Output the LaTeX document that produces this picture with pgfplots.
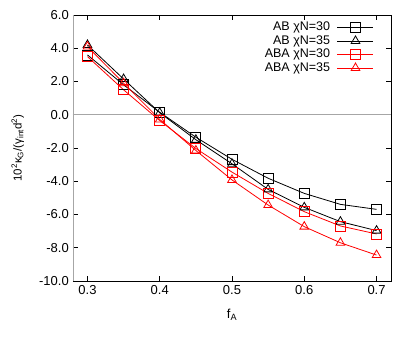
\documentclass[border=0pt]{standalone}
\usepackage{fontspec}
\setmainfont{Liberation Sans}
\usepackage{pgfplots}
\pgfplotsset{compat=1.18}
\begin{document}
\fontsize{12pt}{14pt}\selectfont
\begin{tikzpicture}[x=1pt,y=1pt]
\begin{axis}[
  name=ax, scale only axis, width=318pt, height=266pt,
  xmin=0.28, xmax=0.72, ymin=-10, ymax=6,
  xtick={0.3,0.4,0.5,0.6,0.7}, ytick={-10,-8,-6,-4,-2,0,2,4,6},
  tick align=inside, tick pos=both, major tick length=5pt,
  tick style={black, line width=0.6pt},
  /pgf/number format/assume math mode=true,
  yticklabel style={/pgf/number format/.cd, fixed, fixed zerofill, precision=1},
  xticklabel style={/pgf/number format/.cd, fixed, fixed zerofill, precision=1},
  tick label style={font=\fontsize{13pt}{15pt}\selectfont},
  axis line style={line width=0.8pt},
  xlabel={f\textsubscript{A}}, xlabel style={font=\fontsize{13pt}{15pt}\selectfont, yshift=-6pt},
  ylabel={10\textsuperscript{2}κ\textsubscript{G}/(γ\textsubscript{int}d\textsuperscript{2})},
  ylabel style={font=\fontsize{11.5pt}{13pt}\selectfont, yshift=7pt},
  legend style={draw=none, fill=none, at={(0.95,0.985)}, anchor=north east,
    font=\fontsize{12.5pt}{13pt}\selectfont, row sep=-1pt, column sep=5pt, inner sep=1pt},
  legend cell align=right, legend plot pos=right,
  legend image code/.code={\draw[mark repeat=2,mark phase=2,#1] plot coordinates {(0pt,0pt) (18pt,0pt) (36pt,0pt)};},
  every axis plot/.append style={line width=0.8pt},
  clip=false,
]
\addplot[gray!70, line width=0.8pt, forget plot] coordinates {(0.28,0) (0.72,0)};
\addplot[black, mark=square, mark size=5pt] coordinates {
  (0.30,3.6) (0.35,1.8) (0.40,0.15) (0.45,-1.35) (0.50,-2.68)
  (0.55,-3.82) (0.60,-4.73) (0.65,-5.39) (0.70,-5.69)};
\addlegendentry{AB χN=30}
\addplot[black, mark=triangle, mark size=5pt] coordinates {
  (0.30,4.2) (0.35,2.15) (0.40,0.12) (0.45,-1.5) (0.50,-2.95)
  (0.55,-4.49) (0.60,-5.57) (0.65,-6.43) (0.70,-6.97)};
\addlegendentry{AB χN=35}
\addplot[red, mark=square, mark size=5pt] coordinates {
  (0.30,3.5) (0.35,1.5) (0.40,-0.35) (0.45,-2.03) (0.50,-3.45)
  (0.55,-4.73) (0.60,-5.83) (0.65,-6.69) (0.70,-7.17)};
\addlegendentry{ABA χN=30}
\addplot[red, mark=triangle, mark size=5pt] coordinates {
  (0.30,4.1) (0.35,1.9) (0.40,-0.28) (0.45,-2.15) (0.50,-3.92)
  (0.55,-5.43) (0.60,-6.73) (0.65,-7.70) (0.70,-8.44)};
\addlegendentry{ABA χN=35}
\end{axis}
\draw[gray!70, line width=0.9pt] (ax.south west) -- (ax.north west);
\path[use as bounding box] ([shift={(-73pt,-57pt)}]ax.south west) rectangle ([shift={(24pt,15pt)}]ax.north east);
\end{tikzpicture}
\end{document}
